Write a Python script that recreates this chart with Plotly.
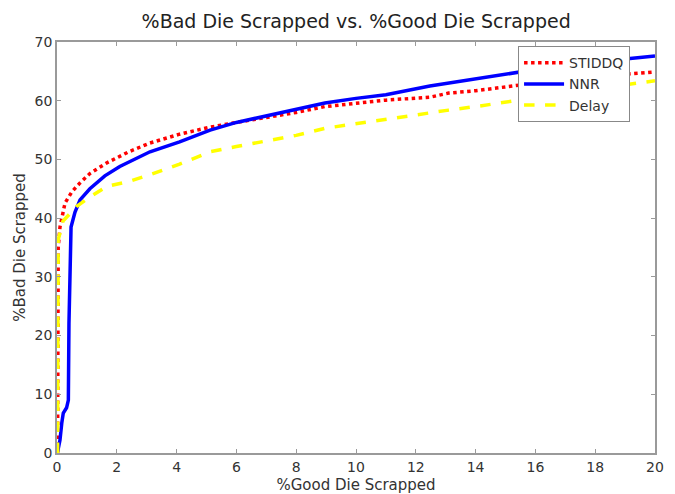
import plotly.graph_objects as go

# Data
stiddq_x = [0.02, 0.03, 0.04, 0.1, 0.27, 0.5, 0.77, 1.1, 1.66, 2.4, 3.11, 4.1, 5.12, 6.0, 7.12,
            8.0, 8.96, 10, 11, 12.47, 13.1, 14, 15.4, 16, 17, 18, 19, 20]
stiddq_y = [0, 20, 35, 38.5, 42.6, 44.5, 46, 47.6, 49.4, 51.3, 52.8, 54.3, 55.5, 56.3, 57.2,
            58.0, 59, 59.6, 60.1, 60.6, 61.3, 61.7, 62.7, 63, 63.6, 64.1, 64.5, 64.9]

nnr_x = [0.02, 0.1, 0.16, 0.21, 0.32, 0.38, 0.4, 0.42, 0.47, 0.6, 0.77, 1.1, 1.6, 2.1, 3.11,
         4.1, 5.12, 6.0, 7.12, 8.0, 8.96, 10, 11, 12.47, 13.1, 14, 15.4, 16, 17, 18, 19, 20]
nnr_y = [0.2, 2.2, 5.1, 6.8, 7.7, 9, 22, 30, 38.5, 41, 43.1, 45, 47.2, 48.8, 51.3,
         53.0, 55, 56.3, 57.6, 58.6, 59.6, 60.4, 61, 62.5, 63, 63.8, 64.9, 65.3, 66, 66.6, 67.1, 67.6]

delay_x = [0.02, 0.03, 0.04, 0.2, 0.66, 1.1, 1.66, 2.44, 3.11, 4.1, 5.12, 6.0, 7.12, 8.0,
           8.96, 10, 11, 12.47, 13.1, 14, 15.4, 16, 17, 18, 19, 20]
delay_y = [0, 20, 36.3, 39.5, 42, 43.6, 45.4, 46.3, 47.4, 49.2, 51.3, 52.2, 53.3, 54.1,
           55.3, 56.1, 56.9, 57.9, 58.4, 59, 60.1, 60.5, 61.3, 62, 62.7, 63.4]

x_ticks = [0, 2, 4, 6, 8, 10, 12, 14, 16, 18, 20]
y_ticks = [0, 10, 20, 30, 40, 50, 60, 70]

FONT = "DejaVu Sans, Arial, sans-serif"

fig = go.Figure()
fig.add_trace(go.Scatter(x=stiddq_x, y=stiddq_y, mode="lines", name="STIDDQ",
                         line=dict(color="#ff0000", width=3.5, dash="dot")))
fig.add_trace(go.Scatter(x=nnr_x, y=nnr_y, mode="lines", name="NNR",
                         line=dict(color="#0000ff", width=3.5)))
fig.add_trace(go.Scatter(x=delay_x, y=delay_y, mode="lines", name="Delay",
                         line=dict(color="#ffff00", width=3.5, dash="dash")))

axis_common = dict(showline=True, linecolor="#9a9a9a", linewidth=1.5, mirror="ticks",
                   ticks="inside", ticklen=4, tickcolor="#9a9a9a", showgrid=False,
                   zeroline=False, automargin=False,
                   tickfont=dict(family=FONT, size=14, color="#333333"))

# The page body has an 8px margin, so the figure is sized/margined to compensate.
fig.update_layout(
    width=667, height=486,
    margin=dict(l=49, r=20, t=34, b=41),
    paper_bgcolor="white", plot_bgcolor="white",
    font=dict(family=FONT, color="#222222"),
    title=dict(text="%Bad Die Scrapped vs. %Good Die Scrapped", x=0.522, xanchor="center",
               y=0.972, yanchor="middle", font=dict(family=FONT, size=19, color="#222222")),
    xaxis=dict(range=[0, 20], tickvals=x_ticks,
               title=dict(text="%Good Die Scrapped", font=dict(family=FONT, size=15, color="#333333"),
                          standoff=9),
               **axis_common),
    yaxis=dict(range=[0, 70], tickvals=y_ticks,
               title=dict(text="%Bad Die Scrapped", font=dict(family=FONT, size=15, color="#333333"),
                          standoff=5),
               **axis_common),
    legend=dict(x=0.771, y=0.99, xanchor="left", yanchor="top", bgcolor="white",
                bordercolor="#888888", borderwidth=1,
                font=dict(family=FONT, size=14, color="#333333"),
                tracegroupgap=0, itemwidth=40),
    showlegend=True,
)

fig.write_html("out.html")
